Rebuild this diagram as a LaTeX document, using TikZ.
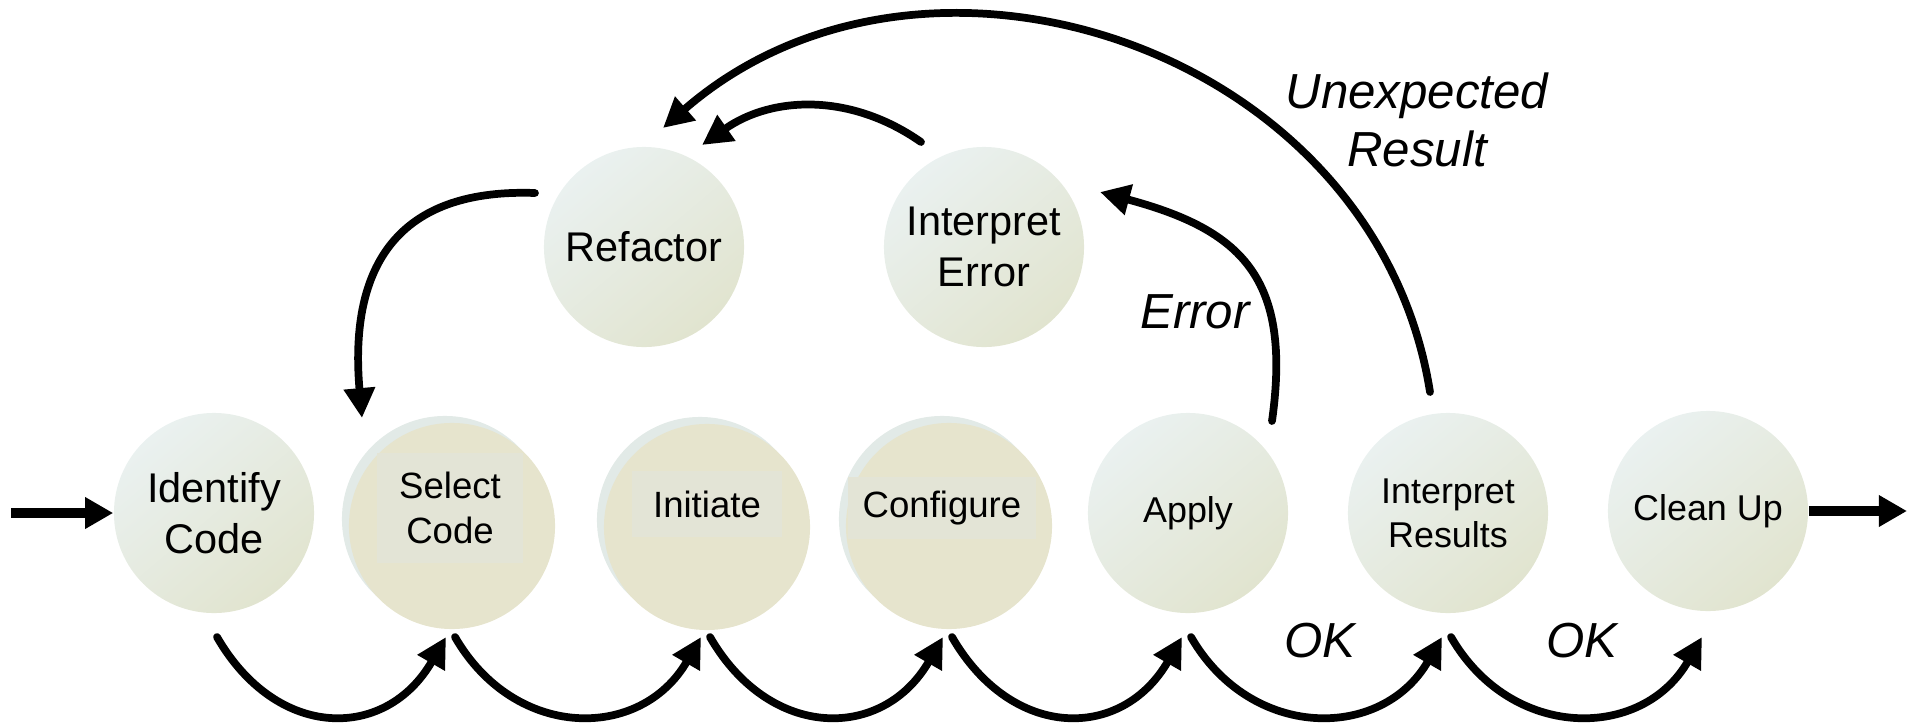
\documentclass[tikz,border=0pt]{standalone}
\usepackage{fontspec}
\setmainfont{Liberation Sans}
\usepackage{xcolor}
\usepackage{tikz}
\usetikzlibrary{arrows.meta,calc,shadows}
\definecolor{ballhi}{RGB}{234,241,240}
\definecolor{balllo}{RGB}{225,228,207}
\definecolor{stepfill}{RGB}{230,228,205}
\definecolor{stephalo}{RGB}{226,234,231}
\definecolor{tagfill}{RGB}{227,228,214}
\tikzset{
	ball/.style={circle,minimum size=2cm,inner sep=0pt,top color=ballhi,bottom color=balllo,shading angle=40,align=center,font=\fontsize{11.8}{14.4}\selectfont},
	smallball/.style={ball,font=\fontsize{10.2}{12.6}\selectfont},
	stepdisk/.style={circle,minimum size=2.06cm,inner sep=0pt,fill=stepfill,general shadow={fill=stephalo,shadow xshift=-0.07cm,shadow yshift=0.07cm}},
	tag/.style={fill=tagfill,inner sep=0pt,align=center,font=\fontsize{10.4}{12.7}\selectfont},
	flow/.style={line width=2.2pt,line cap=round,-{Triangle[length=8.5pt,width=8.5pt]}},
	feed/.style={line width=2.8pt,-{Triangle[length=8pt,width=8.5pt]}},
	cond/.style={font=\fontsize{14}{16.7}\selectfont\itshape,align=center}
}
\begin{document}
\begin{tikzpicture}[x=0.01cm,y=0.01cm]
		\useasboundingbox (0,0) rectangle (1908,723);
		\node[ball] (ident) at (214,210) {Identify\\Code};
		\node[stepdisk] (sel) at (452,197) {};
		\node[tag,minimum width=1.45cm,minimum height=1.1cm] (seltag) at (450,215) {Select\\Code};
		\node[stepdisk] (init) at (707,196) {};
		\node[tag,minimum width=1.5cm,minimum height=0.65cm] (inittag) at (707,219) {Initiate};
		\node[stepdisk] (conf) at (949,197) {};
		\node[tag,minimum width=1.87cm,minimum height=0.61cm] (conftag) at (942,215) {Configure};
		\node[smallball] (apply) at (1188,210) {Apply};
		\node[smallball] (intres) at (1448,210) {Interpret\\Results};
		\node[smallball] (clean) at (1708,212) {Clean Up};
		\node[ball] (refac) at (644,476) {Refactor};
		\node[ball] (interr) at (984,476) {Interpret\\Error};
		\coordinate (base) at (0,86);
		\coordinate (start) at (11,210);
		\coordinate (finish) at (1907,212);
		\draw[feed] (start) -- (ident.west);
		\draw[feed] (clean.east) -- (finish);
		\foreach \a/\b in {ident/sel,sel/init,init/conf,conf/apply,apply/intres,intres/clean}
			\draw[flow] ($(\a |- base)+(3,0)$) .. controls +(-60:120) and +(-120:120) .. ($(\b |- base)+(-6,0)$);
		\node[cond] (ok1) at (1320,82) {OK};
		\node[cond] (ok2) at (1582,82) {OK};
		\draw[flow] ($(apply.center)+(84,92)$) to[out=82,in=-15,looseness=1.3] ($(interr.center)+(116,55)$);
		\node[cond] (errlbl) at (1195,411) {Error};
		\draw[flow] ($(interr.center)+(-63,105)$) to[out=145,in=35,looseness=1] ($(refac.center)+(58,102)$);
		\draw[flow] ($(refac.center)+(-109,54)$) to[out=178,in=95,looseness=1.3] ($(sel.center)+(-90,108)$);
		\draw[flow] ($(intres.center)+(-18,121)$) to[out=99,in=41,looseness=1.1] ($(refac.center)+(19,119)$);
		\node[cond] (unexlbl) at (1417,603) {Unexpected\\Result};
	\end{tikzpicture}
\end{document}
